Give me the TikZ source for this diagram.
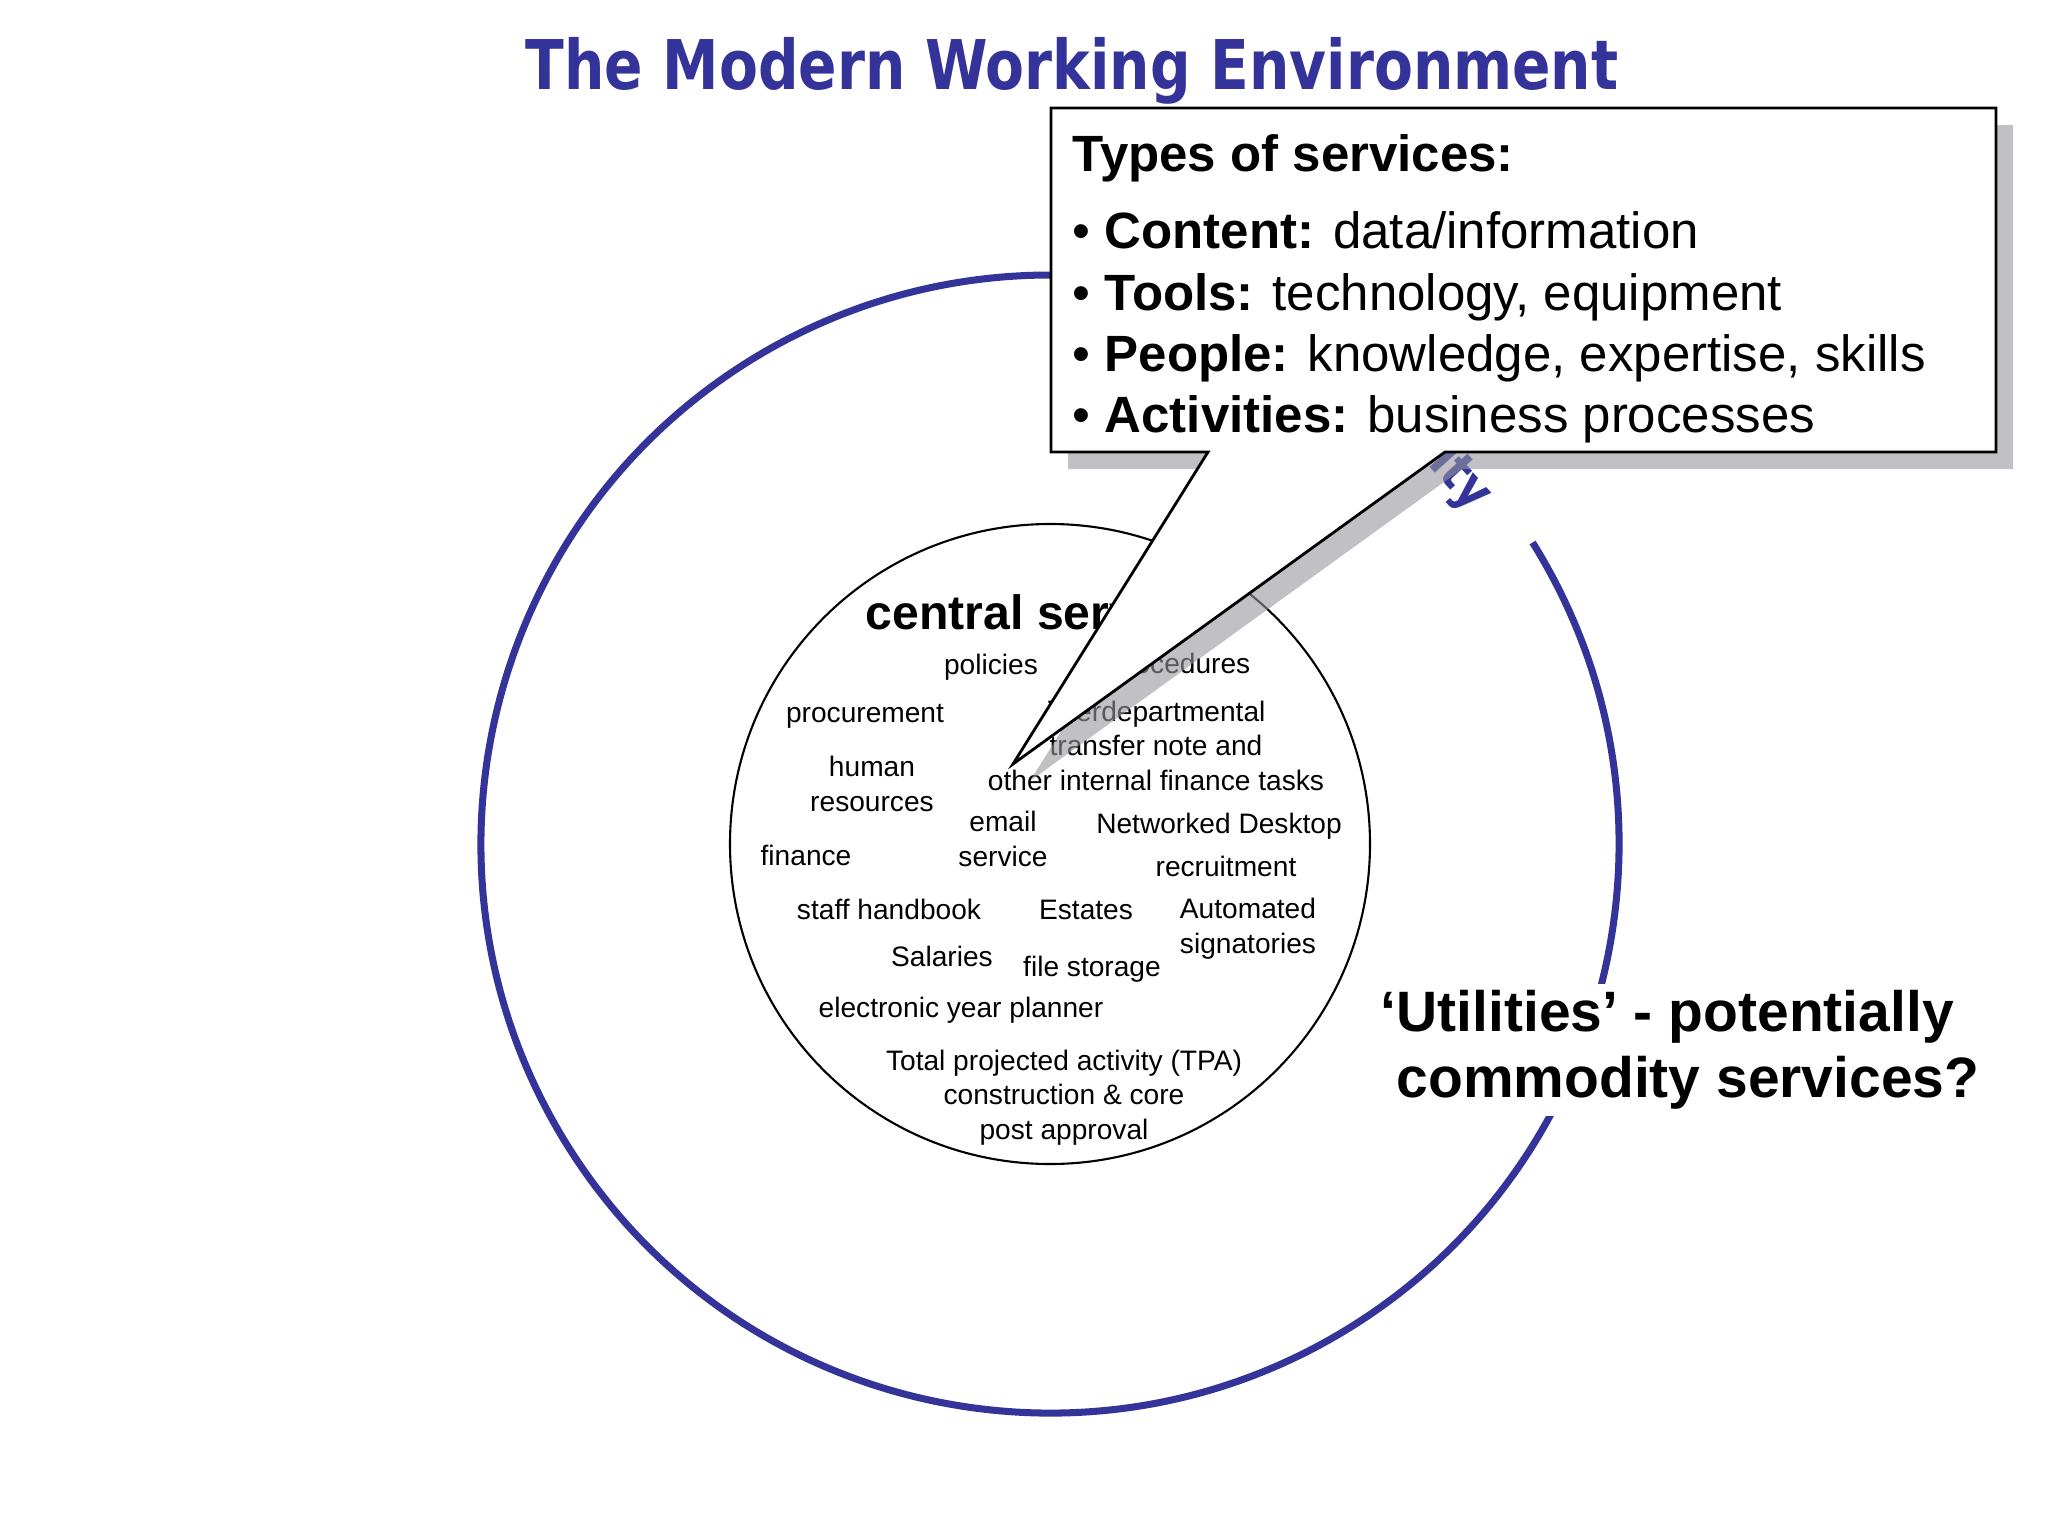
\documentclass[tikz,border=0pt]{standalone}
\usepackage{fontspec}
\setmainfont{Liberation Sans}
\newfontfamily\titlefont{DejaVu Sans}
\definecolor{wkblue}{RGB}{51,51,153}
\definecolor{shadowgray}{RGB}{150,150,158}
\tikzset{
  svc/.style={font=\fontsize{8}{9.7}\selectfont, align=center, anchor=base, inner sep=0pt},
  boxline/.style={font=\fontsize{14.5}{17}\selectfont, anchor=base west, inner sep=0pt},
}

\begin{document}
\begin{tikzpicture}[x=0.01cm,y=-0.01cm]
\useasboundingbox (0,0) rectangle (2048,1536);

\node [anchor=base, inner sep=0pt, text=wkblue, font=\titlefont\bfseries\fontsize{19.5}{22}\selectfont] (title) at (1072,89) {\scalebox{0.827}[1]{The Modern Working Environment}};

\coordinate (centre) at (1050,844);
\draw [wkblue, line width=2pt] (centre) ++(-32:569) arc [start angle=-32, end angle=310, radius=569];
\draw [line width=0.6pt] (centre) circle [radius=320];

\node [text=wkblue, font=\titlefont\bfseries\fontsize{15}{18}\selectfont, rotate=-48] (ity) at (1460,479) {\scalebox{0.85}[1]{ity}};

\node [anchor=base west, inner sep=0pt, font=\bfseries\fontsize{13.7}{16}\selectfont] (central) at (865,629) {central serv};
\node [svc] (policies) at (991,674) {policies};
\node [svc, anchor=base east] (procedures) at (1251,673) {procedures};
\node [svc] (procurement) at (865,722) {procurement};
\node [svc] (hr) at (872,811) {human\\resources};
\node [svc] (transfer) at (1156,790) {interdepartmental\\transfer note and\\other internal finance tasks};
\node [svc] (email) at (1003,866) {email\\service};
\node [svc] (desktop) at (1219,833) {Networked Desktop};
\node [svc] (finance) at (806,865) {finance};
\node [svc] (recruitment) at (1226,876) {recruitment};
\node [svc] (handbook) at (889,919) {staff handbook};
\node [svc] (estates) at (1086,919) {Estates};
\node [svc] (signatories) at (1248,953) {Automated\\signatories};
\node [svc] (salaries) at (942,966) {Salaries};
\node [svc] (storage) at (1092,976) {file storage};
\node [svc] (planner) at (961,1017) {electronic year planner};
\node [svc] (tpa) at (1064,1139) {Total projected activity (TPA)\\construction \& core\\post approval};

\node [anchor=base west, fill=white, inner sep=2pt, align=left, font=\bfseries\fontsize{16.2}{18.5}\selectfont] (utilities) at (1373,1097) {‘Utilities’ - potentially\\\hspace*{0.28em}commodity services?};

% callout
\fill [shadowgray, fill opacity=0.6] (1068,125) -- (2013,125) -- (2013,469) -- (1462,469) -- (1030,781) -- (1225,469) -- (1068,469) -- cycle;
\draw [fill=white, line width=0.8pt] (1051,108) -- (1996,108) -- (1996,452) -- (1445,452) -- (1013,764) -- (1208,452) -- (1051,452) -- cycle;

\node [boxline] (types) at (1072,171) {\textbf{Types of services:}};
\node [boxline] (content) at (1072,248) {\textbullet\ \textbf{Content:} data/information};
\node [boxline] (tools) at (1072,310) {\textbullet\ \textbf{Tools:} technology, equipment};
\node [boxline] (people) at (1072,371) {\textbullet\ \textbf{People:} knowledge, expertise, skills};
\node [boxline] (activities) at (1072,432) {\textbullet\ \textbf{Activities:} business processes};

\end{tikzpicture}
\end{document}
